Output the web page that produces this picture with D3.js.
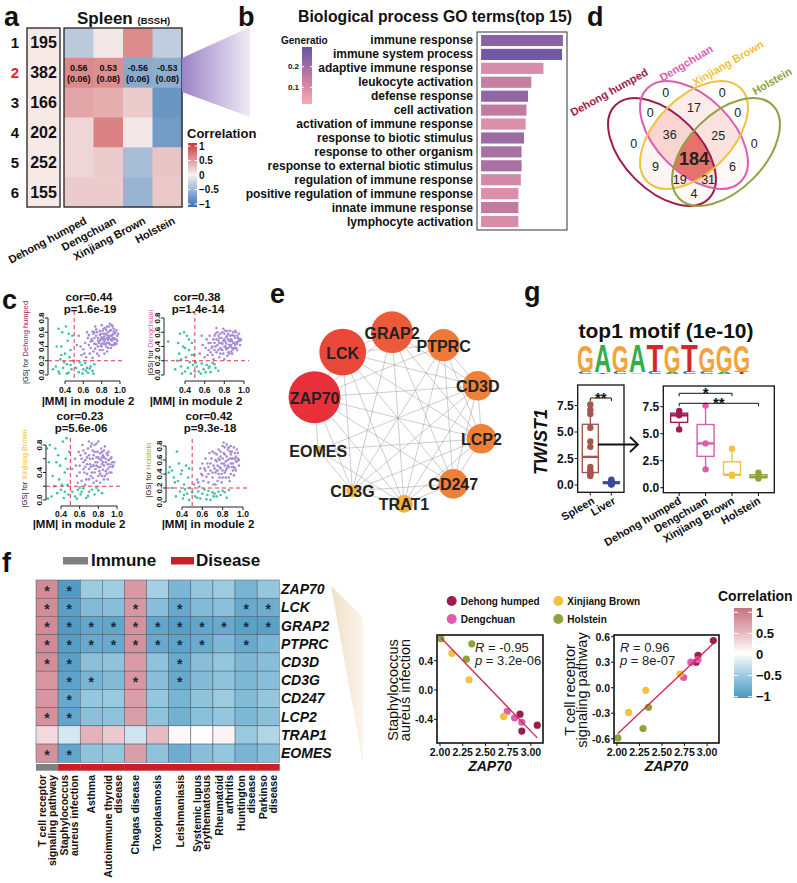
<!DOCTYPE html>
<html>
<head>
<meta charset="utf-8">
<script src="https://cdn.jsdelivr.net/npm/d3@7"></script>
<style>
body { margin: 0; background: #fff; }
svg { display: block; }
</style>
</head>
<body>
<svg id="fig" width="797" height="883"></svg>
<script>
// ---------- data ----------
var breeds = ["Dehong humped", "Dengchuan", "Xinjiang Brown", "Holstein"];
var breedColors = ["#9c1d4f", "#dc5cb0", "#f0c23e", "#8fa33c"];

// a: module / breed correlation (spleen)
var modules = ["1", "2", "3", "4", "5", "6"];
var moduleSizes = [195, 382, 166, 202, 252, 155];
var moduleCor = [
  [-0.30, 0.05, 0.55, -0.28],
  [0.56, 0.53, -0.56, -0.53],
  [0.40, 0.36, 0.20, -0.72],
  [0.14, 0.60, 0.05, -0.68],
  [0.14, 0.20, -0.40, 0.24],
  [0.20, 0.20, -0.48, 0.22]
];
var module2P = [0.06, 0.08, 0.06, 0.08];
var corTicks = [1, 0.5, 0, -0.5, -1];

// b: GO terms
var goTerms = ["immune response", "immune system process", "adaptive immune response",
  "leukocyte activation", "defense response", "cell activation", "activation of immune response",
  "response to biotic stimulus", "response to other organism", "response to external biotic stimulus",
  "regulation of immune response", "positive regulation of immune response",
  "innate immune response", "lymphocyte activation"];
var goCount = [101, 100, 77, 62, 58, 56, 55, 53, 50, 50, 49, 46, 46, 46];
var goRatio = [0.24, 0.28, 0.10, 0.14, 0.23, 0.15, 0.09, 0.21, 0.19, 0.19, 0.11, 0.09, 0.15, 0.10];
var ratioTicks = [0.2, 0.1];

// c: |MM| vs |GS| in module 2, values in hundredths [MM, GS]
var mmTitles = [["cor=0.44", "p=1.6e-19"], ["cor=0.38", "p=1.4e-14"], ["cor=0.23", "p=5.6e-06"], ["cor=0.42", "p=9.3e-18"]];
var mmPoints = [
  [[62,45],[65,52],[68,38],[70,61],[72,44],[74,55],[75,30],[76,48],[78,62],[79,41],[80,53],[81,35],[82,58],[83,47],[84,66],[85,40],[86,52],[87,60],[88,45],[89,55],[90,63],[91,48],[92,57],[93,42],[94,52],[95,60],[96,50],[97,55],[58,28],[60,36],[63,25],[66,42],[69,50],[71,33],[73,68],[77,27],[80,70],[83,30],[86,33],[88,68],[90,38],[92,68],[94,45],[85,57],[79,50],[76,40],[72,52],[67,30],[55,55],[57,40],[82,44],[87,49],[91,55],[84,50],[78,56],[81,62],[89,43],[93,61],[74,64],[70,24],[96,44],[64,60],[61,30],[53,42],
   [66,56],[68,47],[71,58],[73,37],[75,60],[77,45],[78,35],[80,44],[81,50],[82,65],[83,54],[84,43],[85,63],[86,45],[87,38],[88,52],[89,62],[90,50],[91,42],[92,52],[93,65],[94,58],[95,43],[96,63],[97,48],[98,58],[79,58],[76,52],[74,43],[72,60],[70,48],[84,58],[86,68],[89,72],[91,70],[80,40],[87,55],[93,50],[82,52],[78,48],
   [30,12],[33,5],[35,22],[36,40],[37,60],[38,10],[40,30],[41,68],[42,15],[43,48],[44,3],[45,25],[46,35],[47,8],[48,55],[39,18],[34,2],[52,10],[55,4],[58,14],[60,8],[62,17],[65,3],[68,12],[70,6],[72,15],[56,18],[64,10],[27,8],[49,20],
   [31,40],[33,65],[36,28],[44,58],[46,14],[42,2],[59,2],[63,6],[67,9],[71,2]],
  [[55,30],[58,42],[60,25],[62,50],[64,35],[66,45],[68,28],[70,55],[71,40],[72,32],[73,60],[74,48],[75,25],[76,38],[77,52],[78,44],[79,30],[80,58],[81,47],[82,36],[83,62],[84,50],[85,42],[86,55],[87,33],[88,48],[89,60],[90,45],[91,52],[92,38],[93,55],[94,47],[95,50],[65,55],[69,22],[74,35],[79,65],[83,27],[87,42],[91,62],[57,55],[63,28],[67,38],[72,66],[76,58],[81,40],[85,30],[89,36],[93,44],[78,35],[82,53],[86,47],[70,45],[61,38],[84,38],[88,56],[96,42],[75,45],[80,22],
   [66,32],[69,50],[71,58],[73,42],[75,52],[77,36],[78,60],[79,48],[80,40],[81,62],[82,44],[83,55],[84,32],[85,48],[86,62],[87,50],[88,38],[89,45],[90,55],[91,42],[92,60],[93,35],[94,52],[95,58],[96,48],[97,50],[72,50],[76,30],[80,50],[84,58],[88,30],[77,45],[74,55],[68,40],[82,38],[86,40],[90,38],[92,46],[70,35],[64,45],
   [30,8],[32,20],[35,58],[36,12],[38,40],[40,5],[41,25],[42,55],[43,10],[44,35],[45,18],[46,2],[47,45],[48,14],[34,30],[39,60],[23,47],[52,12],[54,5],[57,16],[59,8],[62,14],[66,4],[68,17],[71,10],[74,6],[64,10],[50,5],[37,2],[49,28],
   [33,45],[36,22],[40,38],[44,50],[47,28],[51,18],[56,2],[61,4],[65,12],[70,15]],
  [[52,45],[55,60],[57,35],[59,70],[60,50],[62,28],[63,80],[64,55],[65,40],[66,68],[67,30],[68,52],[69,75],[70,45],[71,60],[72,35],[73,82],[74,50],[75,65],[76,40],[77,55],[78,28],[79,70],[80,48],[81,60],[82,38],[83,75],[84,52],[85,44],[86,62],[87,35],[88,55],[89,68],[90,45],[91,58],[92,40],[93,52],[94,62],[95,48],[58,25],[61,65],[66,22],[70,30],[74,72],[78,62],[82,25],[86,30],[90,30],[76,80],[80,85],[84,70],[88,42],[72,48],[68,62],[64,45],[56,50],[97,55],[80,35],[85,55],[75,25],
   [60,40],[62,60],[64,72],[66,48],[68,38],[70,65],[71,52],[72,78],[73,40],[74,60],[75,50],[76,70],[77,45],[78,82],[79,55],[80,62],[81,42],[82,68],[83,58],[84,35],[85,65],[86,50],[87,78],[88,60],[89,38],[90,52],[91,70],[92,48],[93,60],[94,40],[95,55],[96,50],[70,85],[78,50],[82,48],[86,72],[74,32],[66,58],[90,65],[84,62],
   [25,75],[28,80],[30,5],[33,20],[35,55],[36,10],[38,30],[40,15],[42,85],[44,40],[45,60],[46,90],[47,22],[48,8],[39,50],[37,65],[43,3],[52,12],[55,5],[58,15],[61,8],[64,17],[67,3],[70,12],[73,15],[76,8],[80,14],[84,10],[60,18],[26,2],[49,70],
   [27,55],[31,35],[34,75],[41,22],[44,12],[47,45],[57,2],[62,12],[69,6],[78,18]],
  [[52,25],[55,32],[57,22],[59,40],[61,30],[62,48],[64,36],[65,55],[66,28],[68,45],[69,62],[70,35],[71,52],[72,70],[73,42],[74,58],[75,30],[76,75],[77,50],[78,65],[79,40],[80,80],[81,55],[82,68],[83,45],[84,82],[85,60],[86,50],[87,72],[88,40],[89,62],[90,55],[91,78],[92,48],[93,65],[94,58],[95,70],[60,55],[63,62],[67,70],[71,25],[75,45],[79,28],[83,35],[87,30],[91,38],[85,75],[81,85],[77,35],[73,25],[89,50],[93,45],[58,48],[66,40],[70,72],[76,62],[82,52],[88,68],[96,60],[80,45],
   [56,28],[60,38],[63,45],[66,50],[68,55],[70,42],[72,48],[73,60],[74,68],[75,52],[77,60],[78,72],[79,55],[80,62],[81,70],[82,42],[83,58],[84,65],[85,52],[86,78],[87,62],[88,55],[89,72],[90,62],[91,50],[92,70],[93,58],[94,75],[95,62],[96,52],[84,48],[80,35],[76,40],[86,35],[90,45],[78,48],[74,45],[82,78],[88,80],[92,62],
   [27,42],[28,50],[30,20],[32,35],[34,8],[35,72],[36,30],[38,15],[40,45],[41,5],[42,25],[44,52],[45,12],[46,35],[47,3],[48,20],[37,55],[50,14],[53,8],[56,15],[58,5],[60,12],[62,18],[65,10],[68,3],[70,14],[72,12],[74,8],[76,15],[78,10],[66,16],[82,14],[86,17],[43,18],
   [30,45],[33,28],[39,40],[42,10],[47,48],[55,6],[64,4],[71,8],[80,16],[84,6]]
];
var mmCut = 0.5, gsCut = 0.2;

// d: Venn counts, key = membership in [Dehong, Dengchuan, Xinjiang, Holstein]
var vennCounts = {
  "1000": 0, "0100": 0, "0010": 0, "0001": 0,
  "1100": 0, "1010": 9, "1001": 4, "0110": 17, "0101": 6, "0011": 0,
  "1110": 36, "1101": 31, "1011": 19, "0111": 25, "1111": 184
};

// e: hub genes (circle order) and scores
var hubGenes = ["GRAP2", "PTPRC", "CD3D", "LCP2", "CD247", "TRAT1", "CD3G", "EOMES", "ZAP70", "LCK"];
var hubScore = [44, 26, 22, 22, 22, 8, 4, 2, 68, 55];
var ppiEdges = [
  "ZAP70-LCK", "ZAP70-GRAP2", "ZAP70-PTPRC", "ZAP70-CD3D", "ZAP70-LCP2", "ZAP70-CD247", "ZAP70-TRAT1", "ZAP70-CD3G", "ZAP70-EOMES",
  "LCK-GRAP2", "LCK-PTPRC", "LCK-CD3D", "LCK-LCP2", "LCK-CD247", "LCK-TRAT1", "LCK-CD3G",
  "GRAP2-PTPRC", "GRAP2-CD3D", "GRAP2-LCP2", "GRAP2-CD247", "GRAP2-TRAT1", "GRAP2-CD3G",
  "PTPRC-CD3D", "PTPRC-LCP2", "PTPRC-CD247", "PTPRC-TRAT1", "PTPRC-CD3G",
  "CD3D-LCP2", "CD3D-CD247", "CD3D-TRAT1", "CD3D-CD3G", "CD3D-EOMES",
  "LCP2-CD247", "LCP2-TRAT1", "LCP2-CD3G", "LCP2-EOMES",
  "CD247-TRAT1", "CD247-CD3G", "TRAT1-CD3G", "TRAT1-EOMES", "CD3G-EOMES"
];

// g: motif + TWIST1 expression
var motif = ["G", "A", "G", "A", "T", "G", "T", "G", "G", "G"];
var motifBits = [1.72, 1.78, 1.72, 1.78, 1.78, 1.72, 1.78, 1.66, 1.70, 1.70];
var motifMinor = ["C", "T", "C", "G", "C", "A", "C", "C", "A", "T"];
var motifMinorBits = [0.14, 0.1, 0.12, 0.1, 0.12, 0.14, 0.12, 0.16, 0.12, 0.14];
var twistBreed = [[7.1, 6.7, 5.4], [7.6, 4.1, 1.7], [3.6, 1.2, 1.1], [1.4, 1.0, 0.85]];
var twistLiver = [0.5, 0.35, 0.3, 0.25, 0.2, 0.2, 0.15, 0.15, 0.1, 0.1, 0.05, 0.3];
var twistTicks = [0, 2.5, 5, 7.5];

// f: hub gene vs pathway correlation
var pathways = [["T cell receptor", "signaling pathway"], ["Staphylococcus", "aureus infection"], ["Asthma"],
  ["Autoimmune thyroid", "disease"], ["Chagas disease"], ["Toxoplasmosis"], ["Leishmaniasis"],
  ["Systemic lupus", "erythematosus"], ["Rheumatoid", "arthritis"], ["Huntington", "disease"], ["Parkinso", "disease"]];
var pathwayGroup = ["Immune", "Disease", "Disease", "Disease", "Disease", "Disease", "Disease", "Disease", "Disease", "Disease", "Disease"];
var fGenes = ["ZAP70", "LCK", "GRAP2", "PTPRC", "CD3D", "CD3G", "CD247", "LCP2", "TRAP1", "EOMES"];
var fCor = [
  [0.80, -0.95, -0.50, -0.48, 0.70, -0.45, -0.70, -0.55, -0.50, -0.72, -0.55],
  [0.80, -0.90, -0.65, -0.62, 0.72, -0.62, -0.82, -0.65, -0.60, -0.82, -0.78],
  [0.80, -0.95, -0.85, -0.85, 0.75, -0.85, -0.92, -0.85, -0.82, -0.90, -0.90],
  [0.82, -0.92, -0.82, -0.82, 0.75, -0.82, -0.88, -0.80, -0.68, -0.82, -0.70],
  [0.78, -0.90, -0.60, -0.58, 0.68, -0.58, -0.82, -0.62, -0.55, -0.68, -0.62],
  [0.72, -0.88, -0.72, -0.65, 0.72, -0.62, -0.82, -0.65, -0.58, -0.68, -0.62],
  [0.72, -0.82, -0.55, -0.52, 0.66, -0.55, -0.72, -0.58, -0.50, -0.65, -0.55],
  [0.75, -0.85, -0.60, -0.58, 0.66, -0.58, -0.75, -0.60, -0.55, -0.68, -0.60],
  [0.25, -0.22, 0.50, 0.35, -0.25, 0.45, 0.05, 0.00, 0.08, -0.52, -0.40],
  [0.75, -0.85, -0.58, -0.55, 0.66, -0.58, -0.78, -0.62, -0.55, -0.72, -0.62]
];
var fSig = [
  [1,1,0,0,0,0,0,0,0,0,0],
  [1,1,0,0,1,0,1,0,0,1,1],
  [1,1,1,1,1,1,1,1,1,1,1],
  [1,1,1,1,1,1,1,1,0,1,0],
  [1,1,0,0,0,0,1,0,0,0,0],
  [0,1,1,0,1,0,1,0,0,0,0],
  [0,1,0,0,0,0,0,0,0,0,0],
  [1,1,0,0,0,0,0,0,0,0,0],
  [0,0,0,0,0,0,0,0,0,0,0],
  [1,1,0,0,0,0,0,0,0,0,0]
];
// per sample (3 per breed)
var sampleBreed = [0, 0, 0, 1, 1, 1, 2, 2, 2, 3, 3, 3];
var zap70 = [2.88, 3.07, 2.90, 2.74, 2.82, 2.90, 2.13, 2.32, 2.70, 2.01, 2.35, 2.29];
var staphScore = [-0.33, -0.48, -0.56, -0.29, -0.38, -0.44, 0.50, 0.14, -0.36, 0.70, 0.63, 0.42];
var tcrScore = [0.30, 0.555, 0.38, 0.12, 0.30, 0.33, -0.29, -0.03, 0.16, -0.59, -0.23, -0.48];
var staphStat = ["-0.95", "3.2e-06"];
var tcrStat = ["0.96", "8e-07"];

// ---------- helpers ----------
var FONT = "'Liberation Sans', Arial, Helvetica, sans-serif";
var svg = d3.select("#fig").style("font-family", FONT);
var defs = svg.append("defs");

function addText(g, x, y, s, size, opt) {
  opt = opt || {};
  var t = g.append("text").attr("x", x).attr("y", y)
    .attr("font-size", size)
    .attr("font-weight", opt.weight || "bold")
    .attr("text-anchor", opt.anchor || "start")
    .attr("fill", opt.fill || "#111")
    .text(s);
  if (opt.italic) t.attr("font-style", "italic");
  if (opt.base) t.attr("dominant-baseline", opt.base);
  if (opt.rot !== undefined) t.attr("transform", "rotate(" + opt.rot + "," + x + "," + y + ")");
  return t;
}

function vGradient(id, scale, top, bottom) {
  var lg = defs.append("linearGradient").attr("id", id)
    .attr("x1", 0).attr("y1", 0).attr("x2", 0).attr("y2", 1);
  d3.range(0, 1.0001, 0.05).forEach(function(t) {
    lg.append("stop").attr("offset", t).attr("stop-color", scale(top + t * (bottom - top)));
  });
}

function hGradient(id, c0, c1) {
  var lg = defs.append("linearGradient").attr("id", id)
    .attr("x1", 0).attr("y1", 0).attr("x2", 1).attr("y2", 0);
  lg.append("stop").attr("offset", 0).attr("stop-color", c0);
  lg.append("stop").attr("offset", 1).attr("stop-color", c1);
}

function fix(v, n) { return v.toFixed(n); }

// panel letters
[["a", 4, 26], ["b", 238, 26], ["d", 587, 26], ["c", 2, 309], ["e", 270, 303], ["g", 524, 301], ["f", 2, 572]]
  .forEach(function(p) { addText(svg, p[1], p[2], p[0], 27); });

// ---------- a ----------
var gA = svg.append("g");
var aX = d3.scaleBand().domain(breeds).range([64, 182]);
var aY = d3.scaleBand().domain(modules).range([28, 207]);
var corA = d3.scaleLinear().domain([-1, 0, 1]).range(["#3573b2", "#f4f0f0", "#c8383b"]);

gA.append("rect").attr("x", 27).attr("y", 28).attr("width", 33).attr("height", 179)
  .attr("fill", "#f6e9e6").attr("stroke", "#222").attr("stroke-width", 1.3);
modules.forEach(function(m, i) {
  var cy = aY(m) + aY.bandwidth() / 2;
  addText(gA, 43.5, cy, moduleSizes[i], 16, {anchor: "middle", base: "central"});
  addText(gA, 15, cy, m, 15, {anchor: "middle", base: "central", fill: m === "2" ? "#e3262f" : "#111"});
  breeds.forEach(function(b, j) {
    gA.append("rect").attr("x", aX(b)).attr("y", aY(m))
      .attr("width", aX.bandwidth() + 0.5).attr("height", aY.bandwidth() + 0.5)
      .attr("fill", corA(moduleCor[i][j]));
  });
});
breeds.forEach(function(b, j) {
  var cx = aX(b) + aX.bandwidth() / 2, cy = aY("2") + aY.bandwidth() / 2;
  addText(gA, cx, cy - 2, fix(moduleCor[1][j], 2), 9, {anchor: "middle"});
  addText(gA, cx, cy + 9, "(" + fix(module2P[j], 2) + ")", 9, {anchor: "middle"});
  addText(gA, cx + 5, 216, b, 11, {anchor: "end", rot: -28, base: "hanging"});
});
gA.append("rect").attr("x", 64).attr("y", 28).attr("width", 118).attr("height", 179)
  .attr("fill", "none").attr("stroke", "#222").attr("stroke-width", 1.3);

var tA = addText(gA, 77, 24, "Spleen ", 17);
tA.append("tspan").attr("font-size", 9.5).text("(BSSH)");

// colour bar a
vGradient("gradA", corA, 1, -1);
var cbA = d3.scaleLinear().domain([-1, 1]).range([204, 146]);
gA.append("rect").attr("x", 188).attr("y", 143).attr("width", 9).attr("height", 64).attr("fill", "url(#gradA)");
addText(gA, 187, 138, "Correlation", 13);
corTicks.forEach(function(v) {
  gA.append("line").attr("x1", 188).attr("x2", 190.5).attr("y1", cbA(v)).attr("y2", cbA(v)).attr("stroke", "#fff");
  gA.append("line").attr("x1", 194.5).attr("x2", 197).attr("y1", cbA(v)).attr("y2", cbA(v)).attr("stroke", "#fff");
  addText(gA, 199, cbA(v), v === 0 ? "0" : (v < 0 ? "\u2212" + Math.abs(v) : "" + v), 10, {base: "central"});
});

// wedge a -> b
hGradient("wedgeB", "#9b84c6", "#efeaf5");
svg.append("polygon").attr("points", "182,58 250,27 250,117 182,92").attr("fill", "url(#wedgeB)");

// ---------- b ----------
var gB = svg.append("g");
var bY = d3.scaleBand().domain(goTerms).range([32, 230]).paddingInner(0.2).paddingOuter(0.21);
var bX = d3.scaleLinear().domain([-0.05 * 101, 1.05 * 101]).range([477, 567]);
var ratioCol = d3.scaleLinear().domain([0.02, 0.15, 0.3]).range(["#f9a8b6", "#c27aa0", "#6454a8"]);
goTerms.forEach(function(t, i) {
  gB.append("rect").attr("x", bX(0)).attr("y", bY(t)).attr("width", bX(goCount[i]) - bX(0))
    .attr("height", bY.bandwidth()).attr("fill", ratioCol(goRatio[i]));
  addText(gB, 473, bY(t) + bY.bandwidth() / 2, t, 12, {anchor: "end", base: "central"});
});
gB.append("rect").attr("x", 477).attr("y", 32).attr("width", 90).attr("height", 198)
  .attr("fill", "none").attr("stroke", "#333").attr("stroke-width", 1);
addText(gB, 435, 22, "Biological process GO terms(top 15)", 15.8, {anchor: "middle"});
vGradient("gradB", ratioCol, 0.297, 0.019);
var cbB = d3.scaleLinear().domain([0.1, 0.2]).range([87.3, 66.7]);
gB.append("rect").attr("x", 302).attr("y", 47).attr("width", 10).attr("height", 57).attr("fill", "url(#gradB)");
addText(gB, 281, 44, "Generatio", 10);
ratioTicks.forEach(function(v) {
  gB.append("line").attr("x1", 302).attr("x2", 304).attr("y1", cbB(v)).attr("y2", cbB(v)).attr("stroke", "#fff");
  gB.append("line").attr("x1", 310).attr("x2", 312).attr("y1", cbB(v)).attr("y2", cbB(v)).attr("stroke", "#fff");
  addText(gB, 299, cbB(v), fix(v, 1), 8, {anchor: "end", base: "central"});
});

// ---------- d ----------
var gD = svg.append("g");
var vennEll = [
  {cx: 662, cy: 152, rot: 45}, {cx: 694, cy: 135, rot: 45},
  {cx: 694, cy: 135, rot: -45}, {cx: 726, cy: 152, rot: -45}
];
var EA = 66, EB = 38;
function inEll(e, px, py) {
  var r = e.rot * Math.PI / 180, dx = px - e.cx, dy = py - e.cy;
  var u = dx * Math.cos(r) + dy * Math.sin(r), v = -dx * Math.sin(r) + dy * Math.cos(r);
  return (u * u) / (EA * EA) + (v * v) / (EB * EB) <= 1;
}
vennEll.forEach(function(e, i) {
  defs.append("clipPath").attr("id", "vclip" + i).append("ellipse")
    .attr("cx", e.cx).attr("cy", e.cy).attr("rx", EA).attr("ry", EB)
    .attr("transform", "rotate(" + e.rot + "," + e.cx + "," + e.cy + ")");
});
var vennFill = d3.scaleLinear().domain([0, 40, 184]).range(["#ffffff", "#f7d0cc", "#e5736b"]);
var keys = Object.keys(vennCounts);
[2, 3, 4].forEach(function(k) {
  keys.filter(function(key) { return key.split("").filter(function(c) { return c === "1"; }).length === k; })
    .forEach(function(key) {
      var members = [];
      key.split("").forEach(function(c, i) { if (c === "1") members.push(i); });
      var g = gD;
      members.slice(0, -1).forEach(function(m) { g = g.append("g").attr("clip-path", "url(#vclip" + m + ")"); });
      var e = vennEll[members[members.length - 1]];
      g.append("ellipse").attr("cx", e.cx).attr("cy", e.cy).attr("rx", EA).attr("ry", EB)
        .attr("transform", "rotate(" + e.rot + "," + e.cx + "," + e.cy + ")")
        .attr("fill", vennFill(vennCounts[key]));
    });
});
vennEll.forEach(function(e, i) {
  gD.append("ellipse").attr("cx", e.cx).attr("cy", e.cy).attr("rx", EA).attr("ry", EB)
    .attr("transform", "rotate(" + e.rot + "," + e.cx + "," + e.cy + ")")
    .attr("fill", "none").attr("stroke", breedColors[i]).attr("stroke-width", 2);
});
// region label positions: centroid of sampled grid points
var acc = {};
for (var px = 590; px <= 797; px += 1.5) {
  for (var py = 70; py <= 215; py += 1.5) {
    var key = vennEll.map(function(e) { return inEll(e, px, py) ? "1" : "0"; }).join("");
    if (key === "0000") continue;
    if (!acc[key]) acc[key] = [0, 0, 0];
    acc[key][0] += px; acc[key][1] += py; acc[key][2] += 1;
  }
}
keys.forEach(function(key) {
  var a = acc[key];
  if (!a) return;
  var big = key === "1111";
  addText(gD, a[0] / a[2], a[1] / a[2], vennCounts[key], big ? 18 : 12.5,
    {anchor: "middle", base: "central", weight: big ? "bold" : "normal", fill: "#222"});
});
var setLabelPos = [[609, 92, -29], [686, 63, -31], [728, 63, -30], [772, 81, -30]];
breeds.forEach(function(b, i) {
  var p = setLabelPos[i];
  addText(gD, p[0], p[1], b, 11, {anchor: "middle", base: "central", fill: breedColors[i], rot: p[2]});
});

// ---------- c ----------
var mmCfg = [
  {ax: 48, x04: 65, x10: 120, y0: 375, y08: 318, xy: 381, tx: 89, ty: 297, labY: 390, mmY: 401, ytx: 25, yl: [0, 0.2, 0.4, 0.6, 0.8]},
  {ax: 164, x04: 185, x10: 244, y0: 375, y08: 318, xy: 381, tx: 197, ty: 297, labY: 390, mmY: 401, ytx: 150, yl: [0, 0.2, 0.4, 0.6, 0.8]},
  {ax: 46, x04: 61, x10: 117, y0: 500, y08: 445, xy: 506, tx: 80, ty: 416, labY: 514, mmY: 524, ytx: 24, yl: [0, 0.4, 0.8]},
  {ax: 166, x04: 182, x10: 243, y0: 502, y08: 446, xy: 507, tx: 209, ty: 416, labY: 514, mmY: 524, ytx: 148, yl: [0, 0.2, 0.4, 0.6, 0.8]}
];
var gsColors = ["#a3234f", "#e065b5", "#f0c23e", "#a3b33a"];
mmCfg.forEach(function(c, k) {
  var g = svg.append("g");
  var x = d3.scaleLinear().domain([0.4, 1.0]).range([c.x04, c.x10]);
  var y = d3.scaleLinear().domain([0, 0.8]).range([c.y0, c.y08]);
  mmPoints[k].forEach(function(p) {
    var mm = p[0] / 100, gs = p[1] / 100;
    g.append("circle").attr("cx", x(mm)).attr("cy", y(gs)).attr("r", 1.3)
      .attr("fill", (mm > mmCut && gs > gsCut) ? "#a68bd3" : "#3fc2a2");
  });
  g.append("line").attr("x1", x(mmCut)).attr("x2", x(mmCut)).attr("y1", c.y08 - 7).attr("y2", c.xy)
    .attr("stroke", "#e33345").attr("stroke-width", 1).attr("stroke-dasharray", "4,3");
  g.append("line").attr("x1", c.ax).attr("x2", c.x10 + 5).attr("y1", y(gsCut)).attr("y2", y(gsCut))
    .attr("stroke", "#e33345").attr("stroke-width", 1).attr("stroke-dasharray", "4,3");
  // axes (base R style)
  g.append("line").attr("x1", c.x04).attr("x2", c.x10).attr("y1", c.xy).attr("y2", c.xy).attr("stroke", "#222");
  [0.4, 0.6, 0.8, 1.0].forEach(function(v) {
    g.append("line").attr("x1", x(v)).attr("x2", x(v)).attr("y1", c.xy).attr("y2", c.xy + 3).attr("stroke", "#222");
    addText(g, x(v), c.labY + 3, fix(v, 1), 8.5, {anchor: "middle"});
  });
  g.append("line").attr("x1", c.ax).attr("x2", c.ax).attr("y1", c.y0).attr("y2", c.y08).attr("stroke", "#222");
  [0, 0.2, 0.4, 0.6, 0.8].forEach(function(v) {
    g.append("line").attr("x1", c.ax - 3).attr("x2", c.ax).attr("y1", y(v)).attr("y2", y(v)).attr("stroke", "#222");
  });
  c.yl.forEach(function(v) {
    addText(g, c.ax - 4, y(v), fix(v, 1), 8, {anchor: "middle", rot: -90});
  });
  addText(g, c.tx, c.ty, mmTitles[k][0], 11.5, {anchor: "middle", base: "central"});
  addText(g, c.tx + 1, c.ty + 12, mmTitles[k][1], 11.5, {anchor: "middle", base: "central"});
  addText(g, c.tx - 1, c.mmY, "|MM| in module 2", 11.5, {anchor: "middle", base: "central"});
  var yt = addText(g, c.ytx + 3, (c.y0 + c.y08) / 2 - 4, "|GS| for ", 7.5, {anchor: "middle", weight: "normal", rot: -90});
  yt.append("tspan").attr("fill", gsColors[k]).text(breeds[k]);
});

// ---------- e ----------
var gE = svg.append("g");
var eCenter = [398, 418], eR = 86;
var nodePos = {};
hubGenes.forEach(function(gname, i) {
  var ang = (-94 + i * 360 / hubGenes.length) * Math.PI / 180;
  nodePos[gname] = [eCenter[0] + eR * Math.cos(ang), eCenter[1] + eR * Math.sin(ang)];
});
var rScale = d3.scaleSqrt().domain([0, d3.max(hubScore)]).range([0, 26]);
var nodeCol = d3.scaleLinear().domain([2, 22, 68]).range(["#f5c342", "#f08038", "#e8303a"]);
ppiEdges.forEach(function(e) {
  var ab = e.split("-"), p = nodePos[ab[0]], q = nodePos[ab[1]];
  gE.append("line").attr("x1", p[0]).attr("y1", p[1]).attr("x2", q[0]).attr("y2", q[1])
    .attr("stroke", "#9a9a9a").attr("stroke-width", 0.5);
});
hubGenes.forEach(function(gname, i) {
  var p = nodePos[gname];
  gE.append("circle").attr("cx", p[0]).attr("cy", p[1]).attr("r", rScale(hubScore[i])).attr("fill", nodeCol(hubScore[i]));
});
hubGenes.forEach(function(gname) {
  var p = nodePos[gname];
  addText(gE, p[0], p[1] + 1, gname, 16, {anchor: "middle", base: "central", fill: "#222"});
});

// ---------- g ----------
var gG = svg.append("g");
addText(gG, 666, 338, "top1 motif (1e-10)", 21, {anchor: "middle"});
var nucColor = {A: "#35ad48", C: "#3a5bc7", G: "#f2a23a", T: "#d12a2c"};
var logoX = d3.scaleBand().domain(d3.range(motif.length)).range([577, 750]).paddingInner(0.03);
var bits = d3.scaleLinear().domain([0, 2]).range([374, 343]);
function logoLetter(ch, x, w, y0, y1) {
  var fs = 20, sy = (y0 - y1) / (0.72 * fs);
  gG.append("text").attr("transform", "translate(" + x + "," + y0 + ") scale(1," + sy + ")")
    .attr("font-size", fs).attr("font-weight", "bold").attr("fill", nucColor[ch])
    .attr("textLength", w).attr("lengthAdjust", "spacingAndGlyphs").text(ch);
}
motif.forEach(function(ch, i) {
  var x = logoX(i), w = logoX.bandwidth();
  logoLetter(motifMinor[i], x + 1, w - 2, bits(0), bits(motifMinorBits[i]));
  logoLetter(ch, x, w, bits(motifMinorBits[i]), bits(motifMinorBits[i] + motifBits[i]));
});

function boxPlot(g, cx, y, vals, color, w) {
  var s = vals.slice().sort(d3.ascending);
  var q1 = d3.quantile(s, 0.25), med = d3.quantile(s, 0.5), q3 = d3.quantile(s, 0.75), iqr = q3 - q1;
  var lo = d3.min(s.filter(function(v) { return v >= q1 - 1.5 * iqr; }));
  var hi = d3.max(s.filter(function(v) { return v <= q3 + 1.5 * iqr; }));
  g.append("line").attr("x1", cx).attr("x2", cx).attr("y1", y(hi)).attr("y2", y(q3)).attr("stroke", color).attr("stroke-width", 1.4);
  g.append("line").attr("x1", cx).attr("x2", cx).attr("y1", y(q1)).attr("y2", y(lo)).attr("stroke", color).attr("stroke-width", 1.4);
  g.append("rect").attr("x", cx - w / 2).attr("y", y(q3)).attr("width", w).attr("height", Math.max(y(q1) - y(q3), 0.5))
    .attr("fill", "#fff").attr("stroke", color).attr("stroke-width", 1.4);
  g.append("line").attr("x1", cx - w / 2).attr("x2", cx + w / 2).attr("y1", y(med)).attr("y2", y(med)).attr("stroke", color).attr("stroke-width", 2.4);
  s.forEach(function(v) {
    g.append("circle").attr("cx", cx).attr("cy", y(v)).attr("r", 3.2).attr("fill", color);
  });
}
function bracket(g, x1, x2, yb, label, ty) {
  g.append("path").attr("d", "M" + x1 + "," + (yb + 3) + "V" + yb + "H" + x2 + "V" + (yb + 3))
    .attr("fill", "none").attr("stroke", "#111").attr("stroke-width", 1);
  addText(g, (x1 + x2) / 2, ty, label, 15, {anchor: "middle"});
}
function boxFrame(g, x0, x1, y0, y1, y) {
  g.append("rect").attr("x", x0).attr("y", y0).attr("width", x1 - x0).attr("height", y1 - y0)
    .attr("fill", "none").attr("stroke", "#111").attr("stroke-width", 1.3);
  twistTicks.forEach(function(v) {
    g.append("line").attr("x1", x0 - 3).attr("x2", x0).attr("y1", y(v)).attr("y2", y(v)).attr("stroke", "#111");
    addText(g, x0 - 4, y(v), fix(v, 1), 12, {anchor: "end", base: "central"});
  });
}
// left: spleen vs liver
var spleenVals = [].concat.apply([], twistBreed);
var tissues = ["Spleen", "Liver"];
var lx = d3.scalePoint().domain(tissues).range([577.7, 624]).padding(0.6);
var ly = d3.scaleLinear().domain([0, 7.5]).range([485, 405.5]);
boxFrame(gG, 577.7, 624, 385, 492.3, ly);
boxPlot(gG, lx("Spleen"), ly, spleenVals, "#a3574e", 16);
boxPlot(gG, lx("Liver"), ly, twistLiver, "#3b4b9b", 16);
bracket(gG, lx("Spleen"), lx("Liver"), 398, "**", 403);
tissues.forEach(function(t) {
  gG.append("line").attr("x1", lx(t)).attr("x2", lx(t)).attr("y1", 492.3).attr("y2", 495.5).attr("stroke", "#111");
  addText(gG, lx(t) + 5, 503, t, 11, {anchor: "end", rot: -30});
});
addText(gG, 547, 442, "TWIST1", 18, {anchor: "middle", italic: true, rot: -90});
// arrow
gG.append("line").attr("x1", 598).attr("x2", 637).attr("y1", 444.5).attr("y2", 444.5).attr("stroke", "#111").attr("stroke-width", 1.8);
gG.append("path").attr("d", "M630,437 L638,444.5 L630,452").attr("fill", "none").attr("stroke", "#111").attr("stroke-width", 1.8);
// right: breeds
var rx = d3.scalePoint().domain(breeds).range([663.3, 774.3]).padding(0.6);
var ry = d3.scaleLinear().domain([0, 7.5]).range([487.7, 406.7]);
boxFrame(gG, 663.3, 774.3, 386, 492.7, ry);
breeds.forEach(function(b, i) {
  boxPlot(gG, rx(b), ry, twistBreed[i], breedColors[i], 17);
  gG.append("line").attr("x1", rx(b)).attr("x2", rx(b)).attr("y1", 492.7).attr("y2", 496).attr("stroke", "#111");
  addText(gG, rx(b) + 3, 503, b, 11, {anchor: "end", rot: -30});
});
bracket(gG, rx(breeds[0]), rx(breeds[2]), 393.3, "*", 398);
bracket(gG, rx(breeds[0]), rx(breeds[3]), 403.3, "**", 408);

// ---------- f ----------
var gF = svg.append("g");
gF.append("rect").attr("x", 63).attr("y", 557).attr("width", 25).attr("height", 7.5).attr("fill", "#808080");
addText(gF, 91, 566, "Immune", 17);
gF.append("rect").attr("x", 171).attr("y", 557).attr("width", 23).attr("height", 7.5).attr("fill", "#c8202a");
addText(gF, 196, 566, "Disease", 17);

var colIdx = d3.range(pathways.length);
var fx = d3.scaleBand().domain(colIdx).range([36, 279.3]);
var fy = d3.scaleBand().domain(fGenes).range([580, 762.3]);
var corF = d3.scaleLinear().domain([-1, -0.5, 0, 0.5, 1]).range(["#4a96c2", "#9ccbe0", "#ffffff", "#e3b3bb", "#c7717f"]);
fGenes.forEach(function(gname, i) {
  colIdx.forEach(function(j) {
    gF.append("rect").attr("x", fx(j)).attr("y", fy(gname)).attr("width", fx.bandwidth()).attr("height", fy.bandwidth())
      .attr("fill", corF(fCor[i][j])).attr("stroke", "#4a5a66").attr("stroke-width", 0.5);
    if (fSig[i][j]) addText(gF, fx(j) + fx.bandwidth() / 2, fy(gname) + fy.bandwidth() / 2 + 6.5, "*", 14, {anchor: "middle", fill: "#1a2a3a"});
  });
  addText(gF, 281, fy(gname) + fy.bandwidth() / 2, gname, 14, {italic: true, base: "central"});
});
colIdx.forEach(function(j) {
  gF.append("rect").attr("x", fx(j)).attr("y", 764).attr("width", fx.bandwidth() + 0.4).attr("height", 6.7)
    .attr("fill", pathwayGroup[j] === "Immune" ? "#808080" : "#c8202a");
  var lines = pathways[j], cx = fx(j) + fx.bandwidth() / 2;
  lines.forEach(function(ln, li) {
    var bx = cx + 3.8 + (li - (lines.length - 1) / 2) * 9.6;
    addText(gF, bx, 775, ln, 10.5, {anchor: "end", rot: -90});
  });
});

// wedge f
hGradient("wedgeF", "#f0dfc6", "#fbf5ec");
svg.append("polygon").attr("points", "331,586 363,617 363,764").attr("fill", "url(#wedgeF)");

// breed legend (2 x 2)
breeds.forEach(function(b, i) {
  var lxp = i < 2 ? 451.7 : 558.3, lyp = i % 2 === 0 ? 601 : 619;
  gF.append("circle").attr("cx", lxp).attr("cy", lyp).attr("r", 5).attr("fill", breedColors[i]);
  addText(gF, lxp + 9, lyp, b, 10, {base: "central"});
});

function corScatter(x0, x1, yDomain, yTicks, yVals, stat, titleLines, titleX) {
  var g = gF.append("g");
  var x = d3.scaleLinear().domain([1.967, 3.133]).range([x0, x1]);
  var y = d3.scaleLinear().domain(yDomain).range([743, 635]);
  zap70.forEach(function(v, i) {
    g.append("circle").attr("cx", x(v)).attr("cy", y(yVals[i])).attr("r", 3.6).attr("fill", breedColors[sampleBreed[i]]);
  });
  var mx = d3.mean(zap70), my = d3.mean(yVals);
  var sxy = d3.sum(zap70, function(v, i) { return (v - mx) * (yVals[i] - my); });
  var sxx = d3.sum(zap70, function(v) { return (v - mx) * (v - mx); });
  var slope = sxy / sxx, icpt = my - slope * mx;
  var xa = d3.min(zap70), xb = d3.max(zap70);
  g.append("line").attr("x1", x(xa)).attr("y1", y(icpt + slope * xa)).attr("x2", x(xb)).attr("y2", y(icpt + slope * xb))
    .attr("stroke", "#d4234b").attr("stroke-width", 1.3);
  g.append("rect").attr("x", x0).attr("y", 635).attr("width", x1 - x0).attr("height", 108)
    .attr("fill", "none").attr("stroke", "#111").attr("stroke-width", 1.6);
  yTicks.forEach(function(v) {
    g.append("line").attr("x1", x0 - 3).attr("x2", x0).attr("y1", y(v)).attr("y2", y(v)).attr("stroke", "#111");
    addText(g, x0 - 4, y(v), fix(v, 1), 10.5, {anchor: "end", base: "central"});
  });
  [2.0, 2.25, 2.5, 2.75, 3.0].forEach(function(v) {
    g.append("line").attr("x1", x(v)).attr("x2", x(v)).attr("y1", 743).attr("y2", 746).attr("stroke", "#111");
    addText(g, x(v), 756, fix(v, 2), 10.5, {anchor: "middle"});
  });
  addText(g, (x0 + x1) / 2, 771, "ZAP70", 14, {anchor: "middle", italic: true});
  var r = addText(g, x0 + (x0 < 500 ? 38 : 6), 652, "", 13, {weight: "normal", fill: "#222"});
  r.append("tspan").attr("font-style", "italic").text("R");
  r.append("tspan").text(" = " + stat[0]);
  var p = addText(g, x0 + (x0 < 500 ? 38 : 6), 665, "", 13, {weight: "normal", fill: "#222"});
  p.append("tspan").attr("font-style", "italic").text("p");
  p.append("tspan").text(" = " + stat[1]);
  titleLines.forEach(function(ln, li) {
    addText(g, titleX + li * 12 + 10, 690, ln, 14.5, {anchor: "middle", weight: "normal", rot: -90});
  });
}
corScatter(437, 543, [-0.723, 0.75], [0.4, 0, -0.4], staphScore, staphStat, ["Staphylococcus", "aureus infection"], 388);
corScatter(614, 719, [-0.65, 0.62], [0.6, 0.3, 0, -0.3, -0.6], tcrScore, tcrStat, ["T cell receptor", "signaling pathway"], 565);

// correlation legend f
vGradient("gradF", corF, 1, -1);
var cbF = d3.scaleLinear().domain([-1, 1]).range([696.7, 612.3]);
addText(gF, 718, 601, "Correlation", 14);
gF.append("rect").attr("x", 734).attr("y", 608).attr("width", 18).attr("height", 90).attr("fill", "url(#gradF)");
corTicks.forEach(function(v) {
  gF.append("line").attr("x1", 734).attr("x2", 738).attr("y1", cbF(v)).attr("y2", cbF(v)).attr("stroke", "#fff");
  gF.append("line").attr("x1", 748).attr("x2", 752).attr("y1", cbF(v)).attr("y2", cbF(v)).attr("stroke", "#fff");
  addText(gF, 756, cbF(v), v === 0 ? "0" : (v < 0 ? "\u2212" + Math.abs(v) : "" + v), 13, {base: "central"});
});
</script>
</body>
</html>
